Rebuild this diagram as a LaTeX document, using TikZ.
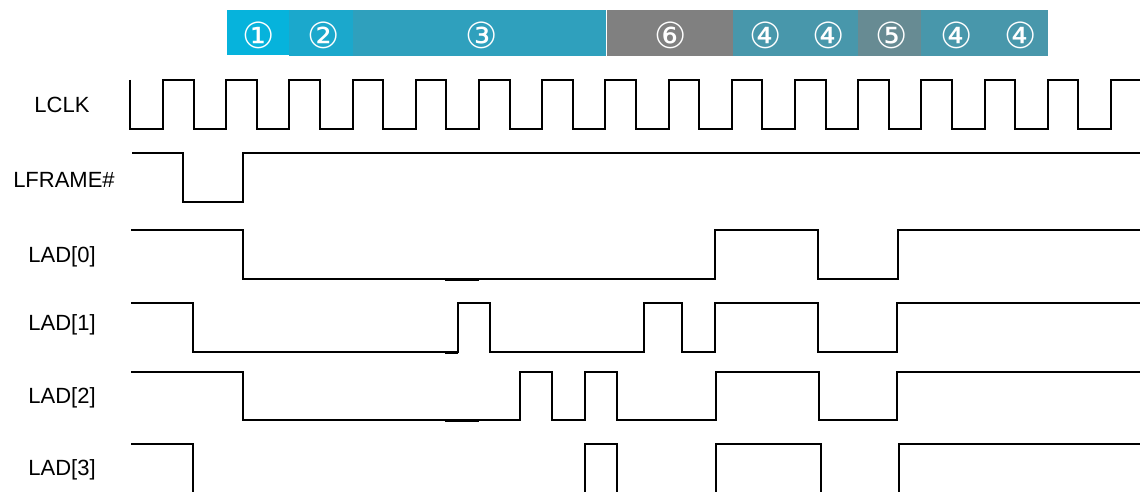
\documentclass[tikz,border=0pt]{standalone}
\usepackage{fontspec}
\setmainfont{Liberation Sans}
\newfontfamily\circfont{DejaVu Sans}
\usepackage{tikz}
\definecolor{PhaseStart}{HTML}{06B3DC}
\definecolor{PhaseType}{HTML}{1BA8CC}
\definecolor{PhaseAddr}{HTML}{2FA0BD}
\definecolor{PhaseWait}{HTML}{808080}
\definecolor{PhaseData}{HTML}{4897AB}
\definecolor{PhaseTar}{HTML}{678B93}

\begin{document}
\begin{tikzpicture}[x=0.5pt, y=-0.5pt,
  wave/.style={draw=black, line width=1pt, line join=miter},
  seam/.style={draw=black, line width=1.5pt},
  sig/.style={font=\fontsize{11}{13}\selectfont, anchor=center},
  num/.style={font=\circfont\fontsize{18}{20}\selectfont, text=white, inner sep=0pt}
]
\useasboundingbox (0,0) rectangle (1140,492);
\clip (0,0) rectangle (1140,492);

%% ---- Phase bar (top) ----
\fill[PhaseStart] (227,10) rectangle (289,55);
\fill[PhaseType]  (289,10) rectangle (353,56);
\fill[PhaseAddr]  (353,10) rectangle (606,56);
\fill[PhaseWait]  (607,10) rectangle (733,56);
\fill[PhaseData]  (733,10) rectangle (858,56);
\fill[PhaseTar]   (858,10) rectangle (921,56);
\fill[PhaseData]  (921,10) rectangle (1048,56);

\node[num] (ph1)  at (259,35)  {①};
\node[num] (ph2)  at (324,35)  {②};
\node[num] (ph3)  at (482,35)  {③};
\node[num] (ph6)  at (671,35)  {⑥};
\node[num] (ph4a) at (766,35)  {④};
\node[num] (ph4b) at (829,35)  {④};
\node[num] (ph5)  at (892,35)  {⑤};
\node[num] (ph4c) at (957,35)  {④};
\node[num] (ph4d) at (1021,35) {④};

%% ---- Signal names ----
\node[sig] (lclk)   at (62,105) {LCLK};
\node[sig] (lframe) at (64,180) {LFRAME\#};
\node[sig] (lad0)   at (62,257) {LAD[0]};
\node[sig] (lad1)   at (62,325) {LAD[1]};
\node[sig] (lad2)   at (62,398) {LAD[2]};
\node[sig] (lad3)   at (62,470) {LAD[3]};

%% ---- LCLK ----
\draw[wave] (130,80) -- (130,129)
  \foreach \k in {0,...,14} { -| ({163+63.2*\k},80) -| ({193.5+63.2*\k},129) }
  -| (1111,80) -- (1140,80);

%% ---- LFRAME# ----
\draw[wave] (132,153) -| (183,202) -| (243,153) -- (1140,153);

%% ---- LAD[3:0] ----
\draw[wave] (131,230) -| (243,279) -| (715,230) -| (818,279) -| (898,230) -- (1140,230);
\draw[wave] (131,303) -| (193,352) -| (458,303) -| (490,352) -| (644,303) -| (682,352)
  -| (715,303) -| (818,352) -| (897,303) -- (1140,303);
\draw[wave] (131,372) -| (243,420) -| (520,372) -| (552,420) -| (585,372) -| (617,420)
  -| (716,372) -| (819,420) -| (897,372) -- (1140,372);
\draw[wave] (131,444) -| (193,496) -| (585,444) -| (617,496) -| (716,444) -| (821,496)
  -| (899,444) -- (1140,444);

% darker overlap bits on the low levels
\draw[seam] (445,279) -- (479,279);
\draw[seam] (445,352) -- (458,352);
\draw[seam] (445,420) -- (479,420);

\end{tikzpicture}
\end{document}
